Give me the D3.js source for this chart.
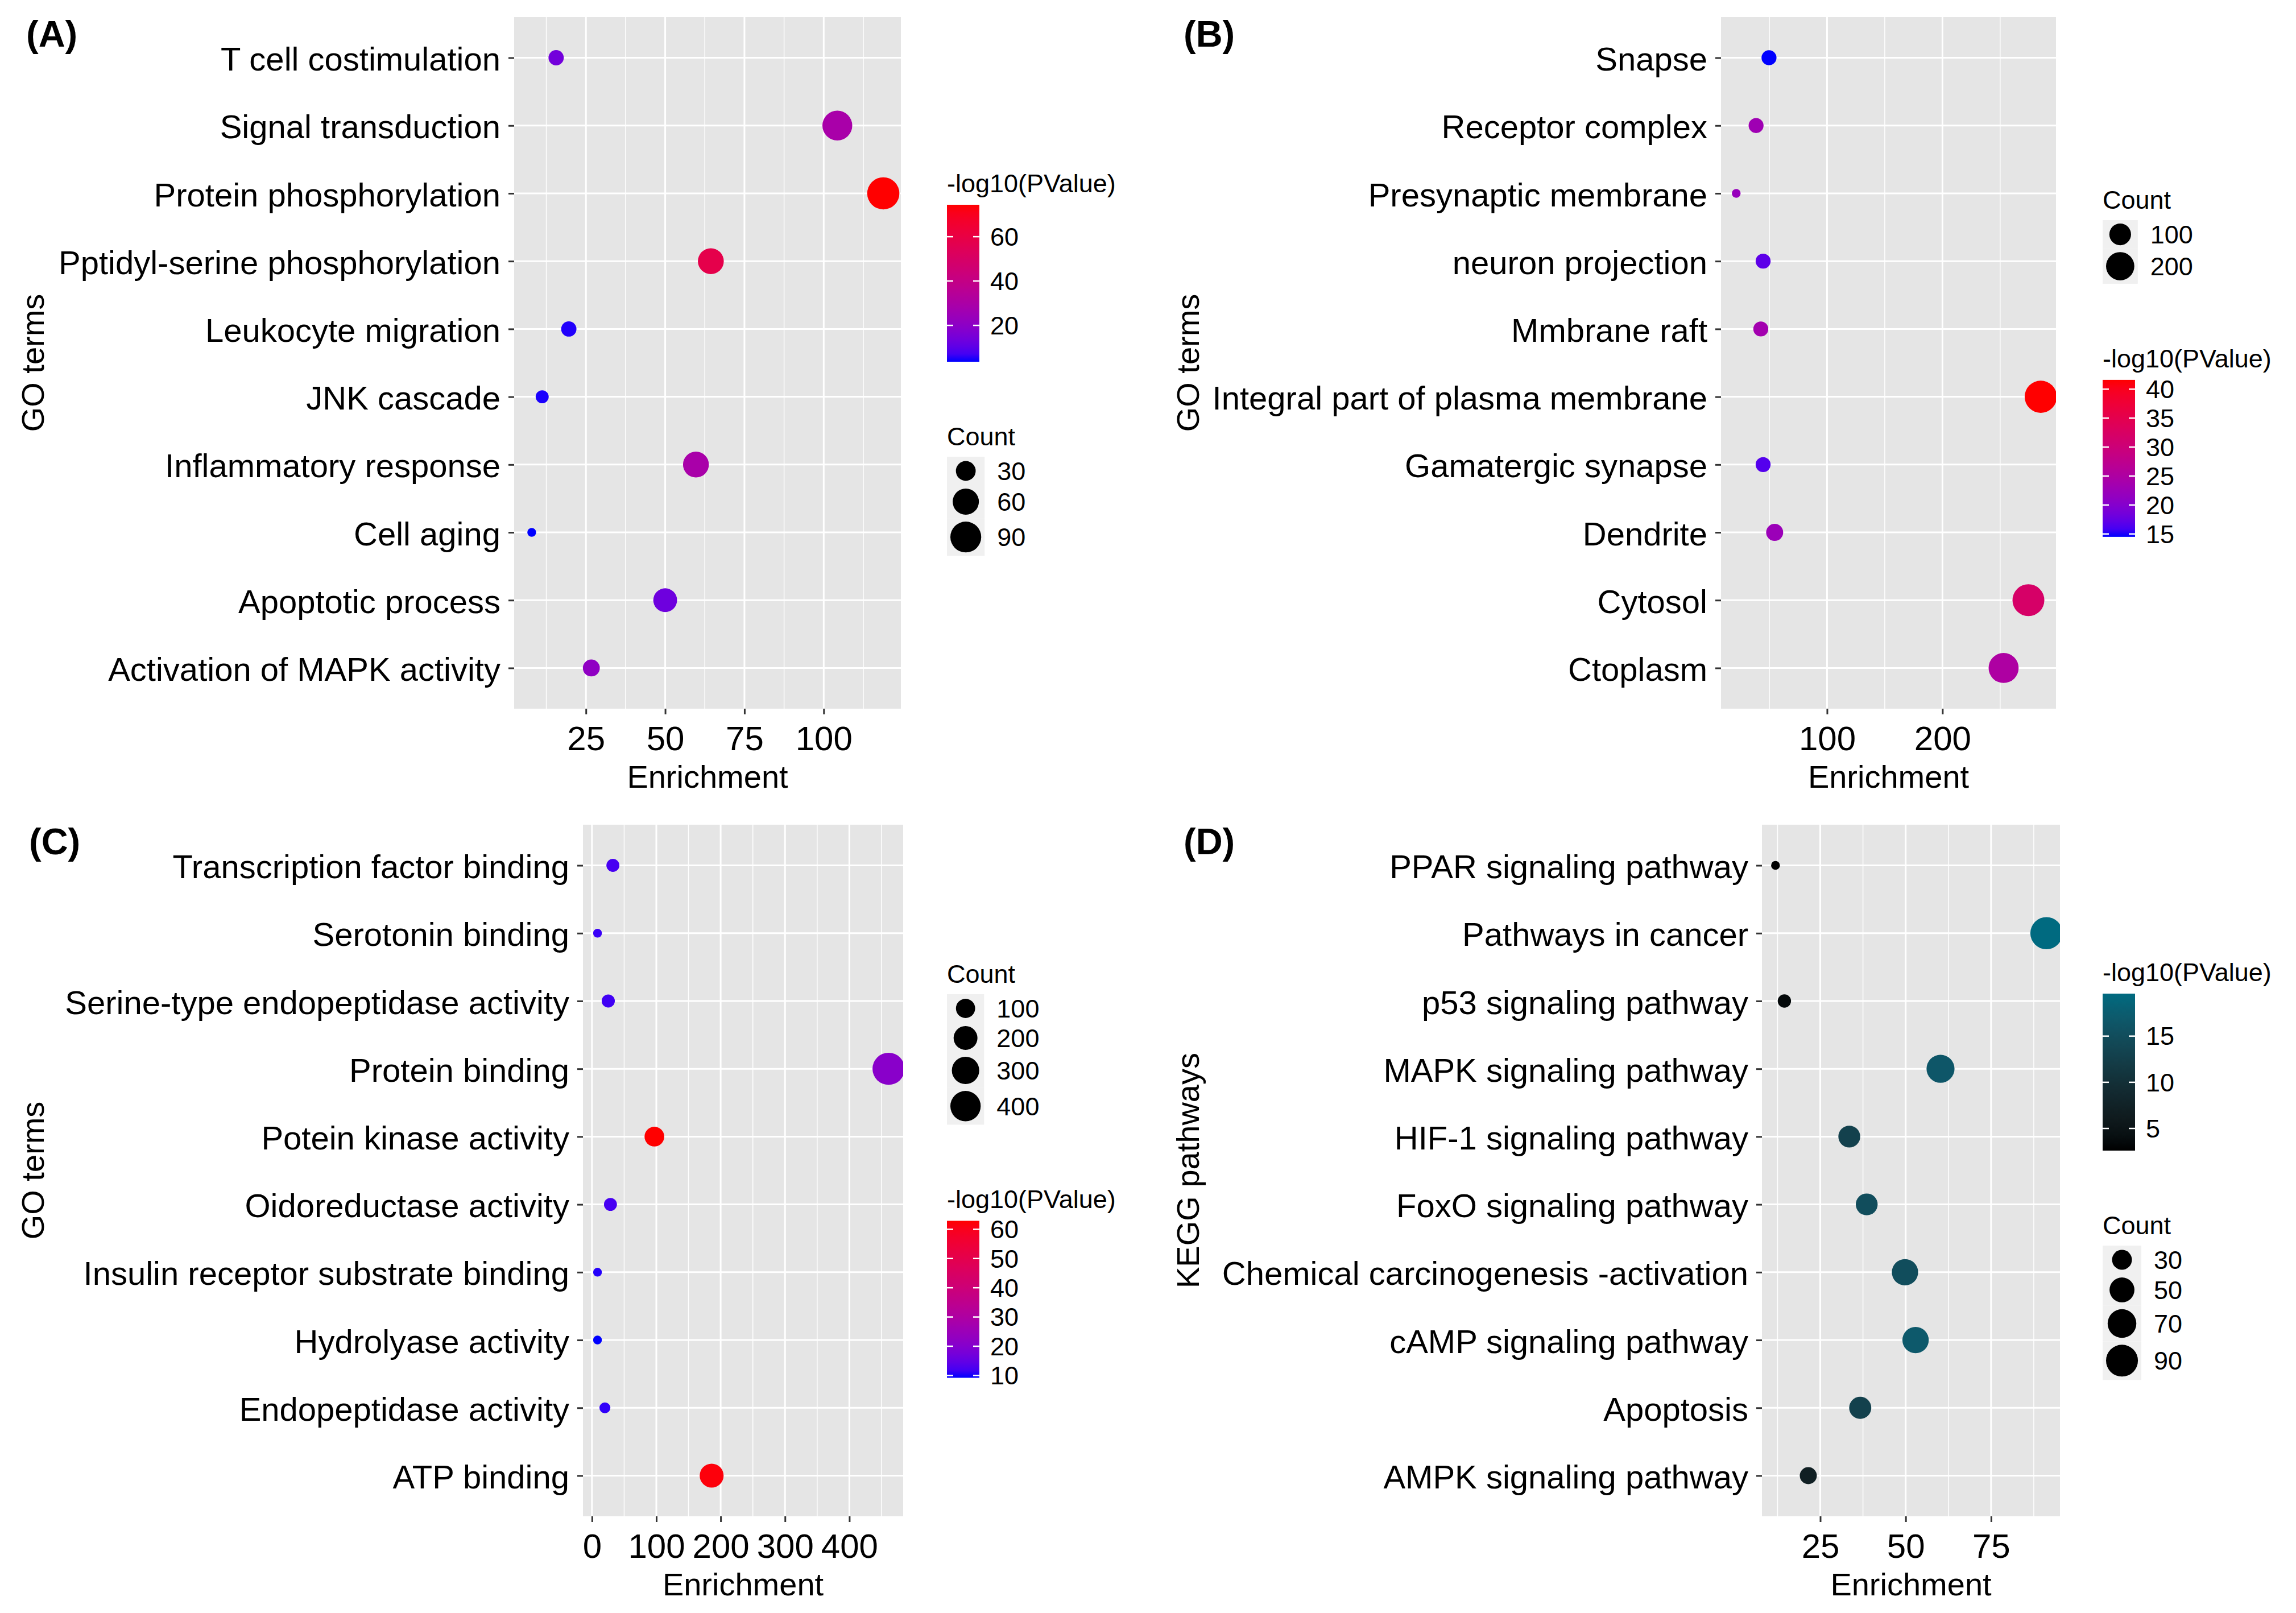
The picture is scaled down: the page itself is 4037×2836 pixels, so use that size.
<!DOCTYPE html>
<html>
<head>
<meta charset="utf-8">
<script src="https://d3js.org/d3.v7.min.js"></script>
<style>
    body { margin: 0; background: #fff; }
</style>
</head>
<body>
<script>
var width = 4037,
    height = 2836,
    font = "'Liberation Sans', Arial, sans-serif";

// (A) GO biological process
var termsA = ["T cell costimulation", "Signal transduction", "Protein phosphorylation",
    "Pptidyl-serine phosphorylation", "Leukocyte migration", "JNK cascade",
    "Inflammatory response", "Cell aging", "Apoptotic process", "Activation of MAPK activity"];
var enrichA = [15.6, 104.3, 118.8, 64.4, 19.6, 11.2, 59.7, 7.9, 50.0, 26.7];
var countA = [17, 83, 100, 58, 17, 13, 58, 10, 47, 21];
var logpA = [14, 29, 74.4, 58, 4.5, 4.2, 29, 3.6, 13, 21];
var xTicksA = [25, 50, 75, 100];
var sizeBreaksA = [30, 60, 90];
var colorBreaksA = [20, 40, 60];

// (B) GO cellular component
var termsB = ["Snapse", "Receptor complex", "Presynaptic membrane", "neuron projection",
    "Mmbrane raft", "Integral part of plasma membrane", "Gamatergic synapse", "Dendrite",
    "Cytosol", "Ctoplasm"];
var enrichB = [49.7, 38.5, 21.3, 44.6, 42.6, 285.2, 44.6, 54.6, 274.5, 253.0];
var countB = [40, 40, 22, 40, 40, 278, 40, 54, 271, 233];
var logpB = [14.5, 23, 22, 17, 23.5, 41.6, 16.5, 22.5, 32, 25];
var xTicksB = [100, 200];
var sizeBreaksB = [100, 200];
var colorBreaksB = [15, 20, 25, 30, 35, 40];

// (C) GO molecular function
var termsC = ["Transcription factor binding", "Serotonin binding",
    "Serine-type endopeptidase activity", "Protein binding", "Potein kinase activity",
    "Oidoreductase activity", "Insulin receptor substrate binding", "Hydrolyase activity",
    "Endopeptidase activity", "ATP binding"];
var enrichC = [32.5, 8.6, 25.3, 461, 97, 28.7, 8.6, 8.6, 20.1, 186];
var countC = [23, 8, 24, 470, 109, 23, 8, 8, 12, 202];
var logpC = [12, 11, 11.5, 21, 62.9, 12, 10, 9.2, 10.5, 62];
var xTicksC = [0, 100, 200, 300, 400];
var sizeBreaksC = [100, 200, 300, 400];
var colorBreaksC = [10, 20, 30, 40, 50, 60];

// (D) KEGG pathways
var termsD = ["PPAR signaling pathway", "Pathways in cancer", "p53 signaling pathway",
    "MAPK signaling pathway", "HIF-1 signaling pathway", "FoxO signaling pathway",
    "Chemical carcinogenesis -activation", "cAMP signaling pathway", "Apoptosis",
    "AMPK signaling pathway"];
var enrichD = [11.9, 91.2, 14.5, 60.2, 33.5, 38.6, 49.8, 52.9, 36.7, 21.5];
var countD = [12, 92, 15, 66, 37, 37, 57, 57, 38, 22];
var logpD = [2.6, 19.6, 3.5, 16.5, 13, 15, 15, 17, 13, 7];
var xTicksD = [25, 50, 75];
var sizeBreaksD = [30, 50, 70, 90];
var colorBreaksD = [5, 10, 15];

var panels = [
    {tag: "(A)", tagX: 46, tagY: 82, x0: 904, x1: 1584, y0: 30, y1: 1246,
        yTitle: "GO terms", yTitleX: 77, legendX: 1665, legendY: 338, order: ["color", "size"],
        terms: termsA, enrich: enrichA, count: countA, logp: logpA, xTicks: xTicksA,
        sizeBreaks: sizeBreaksA, colorBreaks: colorBreaksA, low: "#0000ff", high: "#ff0000"},
    {tag: "(B)", tagX: 2081, tagY: 82, x0: 3026, x1: 3615, y0: 30, y1: 1246,
        yTitle: "GO terms", yTitleX: 2108, legendX: 3697, legendY: 367, order: ["size", "color"],
        terms: termsB, enrich: enrichB, count: countB, logp: logpB, xTicks: xTicksB,
        sizeBreaks: sizeBreaksB, colorBreaks: colorBreaksB, low: "#0000ff", high: "#ff0000"},
    {tag: "(C)", tagX: 51, tagY: 1502, x0: 1025, x1: 1588, y0: 1450, y1: 2666,
        yTitle: "GO terms", yTitleX: 77, legendX: 1665, legendY: 1728, order: ["size", "color"],
        terms: termsC, enrich: enrichC, count: countC, logp: logpC, xTicks: xTicksC,
        sizeBreaks: sizeBreaksC, colorBreaks: colorBreaksC, low: "#0000ff", high: "#ff0000"},
    {tag: "(D)", tagX: 2081, tagY: 1502, x0: 3098, x1: 3622, y0: 1450, y1: 2666,
        yTitle: "KEGG pathways", yTitleX: 2108, legendX: 3697, legendY: 1725, order: ["color", "size"],
        terms: termsD, enrich: enrichD, count: countD, logp: logpD, xTicks: xTicksD,
        sizeBreaks: sizeBreaksD, colorBreaks: colorBreaksD, low: "#000000", high: "#006a80"}
];

var dMin = 15.4, dMax = 56.6; // point diameter range (ggplot size range 1..6)

var svg = d3.select("body").append("svg")
    .attr("width", width)
    .attr("height", height)
    .style("font-family", font);

svg.append("rect").attr("width", width).attr("height", height).attr("fill", "#fff");
var defs = svg.append("defs");

// ggplot style continuous expansion: 5% on each side
function expand(ext) {
    var pad = (ext[1] - ext[0]) * 0.05;
    return [ext[0] - pad, ext[1] + pad];
}

function minorTicks(ticks, domain) {
    var step = ticks[1] - ticks[0];
    var out = [];
    for (var v = ticks[0] - step / 2; v <= domain[1]; v += step) {
        if (v >= domain[0]) out.push(v);
    }
    return out;
}

panels.forEach(drawPanel);

function drawPanel(p, i) {
    var g = svg.append("g");
    var x = d3.scaleLinear().domain(expand(d3.extent(p.enrich))).range([p.x0, p.x1]);
    var y = d3.scalePoint().domain(p.terms).range([p.y0, p.y1]).padding(0.6);
    var t = d3.scaleLinear().domain(d3.extent(p.count)).range([0, 1]);
    var dia = d3.scaleSqrt().domain([0, 1]).range([dMin, dMax]);
    var col = d3.scaleLinear().domain(d3.extent(p.logp)).range([p.low, p.high])
        .interpolate(d3.interpolateLab);

    g.append("rect")
        .attr("x", p.x0).attr("y", p.y0)
        .attr("width", p.x1 - p.x0).attr("height", p.y1 - p.y0)
        .attr("fill", "#e5e5e5");

    g.selectAll("line.minor")
        .data(minorTicks(p.xTicks, x.domain()))
        .enter().append("line")
        .attr("class", "minor")
        .attr("x1", x).attr("x2", x)
        .attr("y1", p.y0).attr("y2", p.y1)
        .attr("stroke", "#fff").attr("stroke-width", 1.5);

    g.selectAll("line.vmajor")
        .data(p.xTicks)
        .enter().append("line")
        .attr("class", "vmajor")
        .attr("x1", x).attr("x2", x)
        .attr("y1", p.y0).attr("y2", p.y1)
        .attr("stroke", "#fff").attr("stroke-width", 3);

    g.selectAll("line.hmajor")
        .data(p.terms)
        .enter().append("line")
        .attr("class", "hmajor")
        .attr("x1", p.x0).attr("x2", p.x1)
        .attr("y1", y).attr("y2", y)
        .attr("stroke", "#fff").attr("stroke-width", 3);

    // points are clipped to the panel like ggplot does
    defs.append("clipPath").attr("id", "clip" + i)
        .append("rect")
        .attr("x", p.x0).attr("y", p.y0)
        .attr("width", p.x1 - p.x0).attr("height", p.y1 - p.y0);

    g.append("g")
        .attr("clip-path", "url(#clip" + i + ")")
        .selectAll("circle")
        .data(p.terms)
        .enter().append("circle")
        .attr("cx", function (d, k) { return x(p.enrich[k]); })
        .attr("cy", function (d) { return y(d); })
        .attr("r", function (d, k) { return dia(t(p.count[k])) / 2; })
        .attr("fill", function (d, k) { return col(p.logp[k]); });

    var xAxis = g.append("g")
        .attr("transform", "translate(0," + p.y1 + ")")
        .call(d3.axisBottom(x).tickValues(p.xTicks).tickSize(10).tickPadding(20));
    styleAxis(xAxis, 60);

    var yAxis = g.append("g")
        .attr("transform", "translate(" + p.x0 + ",0)")
        .call(d3.axisLeft(y).tickSize(10).tickPadding(14));
    styleAxis(yAxis, 58);
    yAxis.selectAll("text").attr("dy", "0.38em");

    g.append("text")
        .attr("x", (p.x0 + p.x1) / 2)
        .attr("y", p.y1 + 139)
        .attr("text-anchor", "middle")
        .attr("font-size", 56)
        .text("Enrichment");

    g.append("text")
        .attr("transform", "translate(" + p.yTitleX + "," + ((p.y0 + p.y1) / 2) + ") rotate(-90)")
        .attr("text-anchor", "middle")
        .attr("font-size", 56)
        .text(p.yTitle);

    g.append("text")
        .attr("x", p.tagX).attr("y", p.tagY)
        .attr("font-size", 65)
        .attr("font-weight", "bold")
        .text(p.tag);

    drawLegend(p, i, t, dia, col);
}

function styleAxis(a, size) {
    a.attr("font-size", size).attr("font-family", font);
    a.select(".domain").remove();
    a.selectAll("line").attr("stroke", "#333").attr("stroke-width", 3);
    a.selectAll("text").attr("fill", "#000");
}

function drawLegend(p, i, t, dia, col) {
    var lg = svg.append("g").attr("transform", "translate(" + p.legendX + "," + p.legendY + ")");
    var base = 0; // baseline of the current legend title
    p.order.forEach(function (kind) {
        var bottom = kind === "color" ? colorLegend(lg, p, i, col, base)
                                      : sizeLegend(lg, p, t, dia, base);
        base = bottom + 147;
    });
}

function colorLegend(lg, p, i, col, base) {
    var barW = 57, barH = 276;
    lg.append("text").attr("x", 0).attr("y", base)
        .attr("font-size", 45).text("-log10(PValue)");
    var y0 = base + 22;

    var grad = defs.append("linearGradient").attr("id", "grad" + i)
        .attr("x1", 0).attr("y1", 1).attr("x2", 0).attr("y2", 0);
    var dom = col.domain();
    d3.range(0, 1.0001, 0.05).forEach(function (s) {
        grad.append("stop").attr("offset", s)
            .attr("stop-color", col(dom[0] + s * (dom[1] - dom[0])));
    });
    lg.append("rect").attr("x", 0).attr("y", y0)
        .attr("width", barW).attr("height", barH)
        .attr("fill", "url(#grad" + i + ")");

    var by = d3.scaleLinear().domain(dom).range([y0 + barH, y0]);
    var tk = lg.selectAll(null).data(p.colorBreaks).enter().append("g");
    tk.append("line").attr("x1", 0).attr("x2", 11)
        .attr("y1", by).attr("y2", by)
        .attr("stroke", "#fff").attr("stroke-width", 2.5);
    tk.append("line").attr("x1", barW - 11).attr("x2", barW)
        .attr("y1", by).attr("y2", by)
        .attr("stroke", "#fff").attr("stroke-width", 2.5);
    tk.append("text").attr("x", barW + 19).attr("y", by)
        .attr("dy", "0.35em").attr("font-size", 45)
        .text(function (d) { return d; });
    return y0 + barH;
}

function sizeLegend(lg, p, t, dia, base) {
    lg.append("text").attr("x", 0).attr("y", base)
        .attr("font-size", 45).text("Count");
    var y0 = base + 20;
    var ds = p.sizeBreaks.map(function (b) { return dia(t(b)); });
    var w = Math.max(50, d3.max(ds) + 12);
    var cy = y0;
    p.sizeBreaks.forEach(function (b, k) {
        var h = Math.max(50, ds[k] + 12);
        lg.append("rect").attr("x", 0).attr("y", cy)
            .attr("width", w).attr("height", h).attr("fill", "#f0f0f0");
        lg.append("circle").attr("cx", w / 2).attr("cy", cy + h / 2)
            .attr("r", ds[k] / 2).attr("fill", "#000");
        lg.append("text").attr("x", w + 22).attr("y", cy + h / 2)
            .attr("dy", "0.35em").attr("font-size", 45).text(b);
        cy += h;
    });
    return cy;
}
</script>
</body>
</html>
